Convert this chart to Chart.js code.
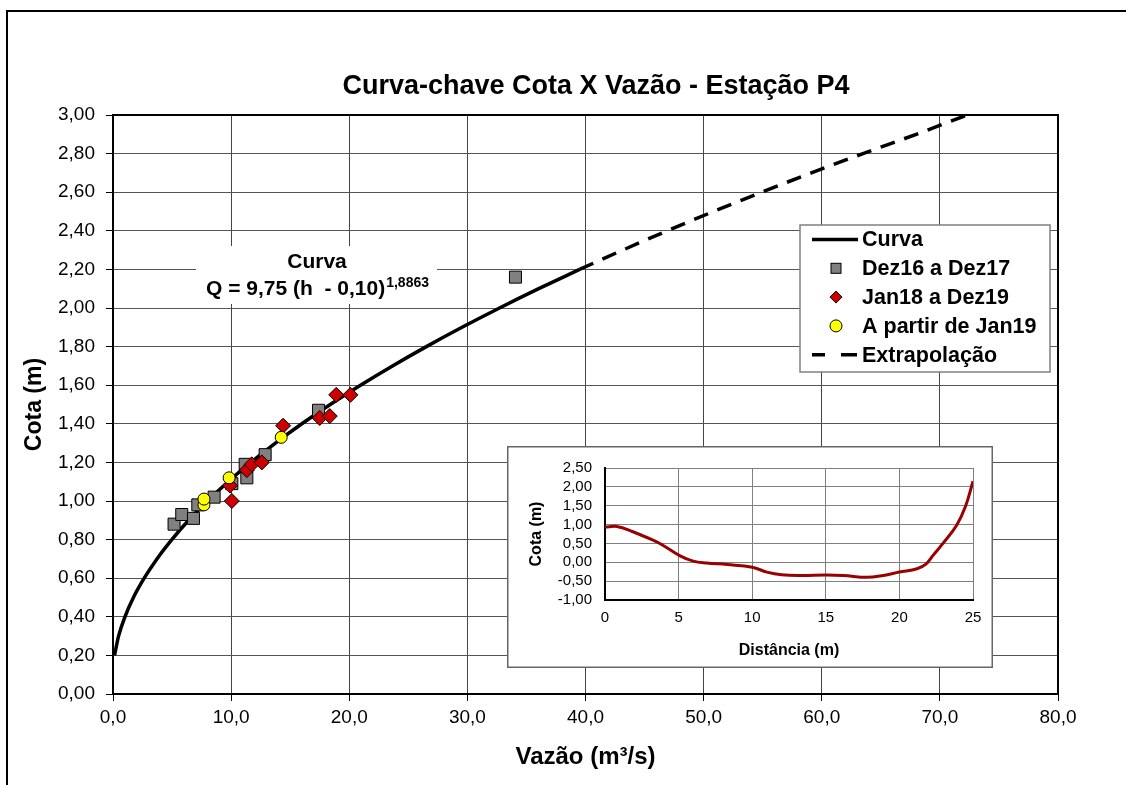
<!DOCTYPE html>
<html><head><meta charset="utf-8">
<script src="https://cdn.jsdelivr.net/npm/chart.js@4.4.1/dist/chart.umd.min.js"></script>
<style>
html,body{margin:0;padding:0;background:#fff;}
#wrap{position:relative;width:1126px;height:785px;overflow:hidden;background:#fff;}
#main{position:absolute;left:0;top:0;}
#inset{position:absolute;left:507px;top:446px;}
</style></head><body>
<div id="wrap"><canvas id="main" width="1126" height="785"></canvas><canvas id="inset" width="486" height="222"></canvas></div>
<script>
// ---------- DATA ----------
const seriesNames = ['Curva', 'Dez16 a Dez17', 'Jan18 a Dez19', 'A partir de Jan19', 'Extrapolação'];

const curvaQ = [0.13, 0.47, 1.01, 1.73, 2.64, 3.72, 4.98, 6.40, 7.99, 9.75, 11.67, 13.75, 15.99, 18.39, 20.95, 23.66, 26.53, 29.55, 32.72, 36.04, 39.50];
const curvaH = [0.20, 0.30, 0.40, 0.50, 0.60, 0.70, 0.80, 0.90, 1.00, 1.10, 1.20, 1.30, 1.40, 1.50, 1.60, 1.70, 1.80, 1.90, 2.00, 2.10, 2.20];

const extrapQ = [39.50, 43.15, 46.92, 50.84, 54.91, 59.12, 63.49, 68.00, 72.30];
const extrapH = [2.20, 2.30, 2.40, 2.50, 2.60, 2.70, 2.80, 2.90, 3.00];

const dezQ = [5.17, 5.82, 6.81, 7.18, 8.56, 10.06, 11.33, 11.19, 12.88, 17.40, 34.07];
const dezH = [0.88, 0.93, 0.91, 0.98, 1.02, 1.09, 1.12, 1.19, 1.24, 1.47, 2.16];

const janQ = [10.06, 9.90, 11.33, 11.75, 12.60, 14.40, 17.50, 18.35, 18.90, 20.10];
const janH = [1.00, 1.08, 1.16, 1.19, 1.20, 1.39, 1.43, 1.44, 1.55, 1.55];

const partirQ = [7.70, 7.70, 9.83, 14.24];
const partirH = [0.98, 1.01, 1.12, 1.33];

const insetDist = [0, 0.8, 1.9, 3.3, 3.9, 5.1, 6.0, 6.9, 8.3, 10.0, 11.0, 12.0, 13.3, 15.0, 16.2, 17.8, 18.9, 20.0, 21.2, 21.8, 22.3, 23.0, 23.9, 24.5, 25.0];
const insetCota = [0.93, 0.95, 0.81, 0.58, 0.46, 0.17, 0.03, -0.02, -0.06, -0.13, -0.26, -0.33, -0.35, -0.34, -0.35, -0.40, -0.35, -0.26, -0.17, -0.05, 0.19, 0.52, 0.99, 1.49, 2.15];

const chartTitle = 'Curva-chave Cota X Vazão - Estação P4';
const eqLine1 = 'Curva';
const eqLine2 = 'Q = 9,75 (h  - 0,10)';
const eqExp = '1,8863';

// ---------- HELPERS ----------
const FONT = '"Liberation Sans", Arial, Helvetica, sans-serif';
Chart.defaults.font.family = FONT;
Chart.defaults.color = '#000';
const pts = (xs, ys) => xs.map((x, i) => ({x: x, y: ys[i]}));
const fmt = (d) => (v) => Number(v).toFixed(d).replace('.', ',');

// ---------- MAIN CHART ----------
const mainDeco = {
  id: 'mainDeco',
  beforeDraw(chart) {
    const ctx = chart.ctx;
    ctx.save(); ctx.fillStyle = '#fff'; ctx.fillRect(0, 0, chart.width, chart.height); ctx.restore();
  },
  beforeDatasetsDraw(chart) {
    const ctx = chart.ctx, a = chart.chartArea;
    ctx.save();
    ctx.strokeStyle = '#000'; ctx.lineWidth = 2;
    ctx.strokeRect(a.left, a.top, a.right - a.left, a.bottom - a.top);
    ctx.fillStyle = '#fff';
    ctx.fillRect(196, 246, 241, 58);
    ctx.fillStyle = '#000';
    ctx.textBaseline = 'alphabetic';
    ctx.textAlign = 'center';
    ctx.font = 'bold 21px ' + FONT;
    ctx.fillText(eqLine1, 317, 268);
    const w1 = ctx.measureText(eqLine2).width;
    ctx.font = 'bold 14px ' + FONT;
    const w2 = ctx.measureText(eqExp).width;
    const x0 = 317 - (w1 + w2) / 2;
    ctx.textAlign = 'left';
    ctx.font = 'bold 21px ' + FONT;
    ctx.fillText(eqLine2, x0, 295);
    ctx.font = 'bold 14px ' + FONT;
    ctx.fillText(eqExp, x0 + w1 + 1, 287);
    ctx.restore();
  },
  afterDraw(chart) {
    const ctx = chart.ctx;
    ctx.save();
    ctx.fillStyle = '#000';
    ctx.font = 'bold 27px ' + FONT;
    ctx.textAlign = 'center';
    ctx.textBaseline = 'alphabetic';
    ctx.fillText(chartTitle, 596, 94);
    const lx = 800, ly = 225, lw = 250, lh = 147;
    ctx.fillStyle = '#fff';
    ctx.fillRect(lx, ly, lw, lh);
    ctx.strokeStyle = '#808080'; ctx.lineWidth = 1.5;
    ctx.strokeRect(lx, ly, lw, lh);
    const kinds = ['line', 'square', 'diamond', 'circle', 'dash'];
    for (let i = 0; i < 5; i++) {
      const cy = 239.5 + i * 28.8;
      const cx = 836;
      ctx.strokeStyle = '#000';
      if (kinds[i] === 'line') {
        ctx.lineWidth = 3.5; ctx.beginPath(); ctx.moveTo(812, cy); ctx.lineTo(858, cy); ctx.stroke();
      } else if (kinds[i] === 'dash') {
        ctx.lineWidth = 3.5; ctx.beginPath(); ctx.moveTo(812, cy); ctx.lineTo(825, cy); ctx.moveTo(841, cy); ctx.lineTo(857, cy); ctx.stroke();
      } else if (kinds[i] === 'square') {
        ctx.lineWidth = 1; ctx.fillStyle = '#808080';
        ctx.fillRect(cx - 5, cy - 5, 10, 10); ctx.strokeRect(cx - 5, cy - 5, 10, 10);
      } else if (kinds[i] === 'diamond') {
        ctx.lineWidth = 1; ctx.fillStyle = '#CC0000';
        ctx.beginPath(); ctx.moveTo(cx, cy - 6); ctx.lineTo(cx + 6, cy); ctx.lineTo(cx, cy + 6); ctx.lineTo(cx - 6, cy); ctx.closePath(); ctx.fill(); ctx.stroke();
      } else {
        ctx.lineWidth = 1; ctx.fillStyle = '#FFFF00';
        ctx.beginPath(); ctx.arc(cx, cy, 6, 0, Math.PI * 2); ctx.fill(); ctx.stroke();
      }
      ctx.fillStyle = '#000';
      ctx.font = 'bold 21.5px ' + FONT;
      ctx.textAlign = 'left';
      ctx.textBaseline = 'middle';
      ctx.fillText(seriesNames[i], 862, cy + 1);
    }
    ctx.strokeStyle = '#000'; ctx.lineWidth = 2;
    ctx.strokeRect(7, 11, 1300, 900);
    ctx.restore();
  }
};

new Chart(document.getElementById('main'), {
  type: 'scatter',
  data: {
    datasets: [
      {label: seriesNames[3], data: pts(partirQ, partirH), pointStyle: 'circle', pointRadius: 6, backgroundColor: '#FFFF00', borderColor: '#000', borderWidth: 1, order: 0},
      {label: seriesNames[2], data: pts(janQ, janH), pointStyle: 'rectRot', pointRadius: 7.5, backgroundColor: '#CC0000', borderColor: '#000', borderWidth: 1, order: 1},
      {label: seriesNames[1], data: pts(dezQ, dezH), pointStyle: 'rect', pointRadius: 8.5, backgroundColor: '#808080', borderColor: '#000', borderWidth: 1, order: 2},
      {label: seriesNames[0], data: pts(curvaQ, curvaH), showLine: true, pointRadius: 0, borderColor: '#000', borderWidth: 3.5, cubicInterpolationMode: 'monotone', order: 3},
      {label: seriesNames[4], data: pts(extrapQ, extrapH), showLine: true, pointRadius: 0, borderColor: '#000', borderWidth: 3.5, borderDash: [15, 10], cubicInterpolationMode: 'monotone', order: 4}
    ]
  },
  options: {
    responsive: false, animation: false, devicePixelRatio: 1,
    layout: {padding: {left: 13, right: 68, top: 115, bottom: 0}},
    plugins: {legend: {display: false}, tooltip: {enabled: false}, title: {display: false}},
    scales: {
      x: {
        type: 'linear', min: 0, max: 80,
        afterFit(s) { s.height = 91; },
        ticks: {stepSize: 10, callback: fmt(1), font: {size: 19}, color: '#000', padding: 5, maxRotation: 0, autoSkip: false},
        grid: {color: '#444', lineWidth: 1, tickColor: '#000', tickLength: 7},
        border: {color: '#000', width: 2},
        title: {display: true, text: 'Vazão (m³/s)', font: {size: 24, weight: 'bold'}, color: '#000', padding: {top: 0, bottom: 13}}
      },
      y: {
        type: 'linear', min: 0, max: 3,
        afterFit(s) { s.width = 100; },
        ticks: {stepSize: 0.2, callback: fmt(2), font: {size: 19}, color: '#000', padding: 11, autoSkip: false},
        grid: {color: '#555', lineWidth: 1, tickColor: '#000', tickLength: 7},
        border: {color: '#000', width: 2},
        title: {display: true, text: 'Cota (m)', font: {size: 23, weight: 'bold'}, color: '#000', padding: {top: 8, bottom: 0}}
      }
    }
  },
  plugins: [mainDeco]
});

// ---------- INSET CHART ----------
const insetDeco = {
  id: 'insetDeco',
  beforeDraw(chart) {
    const ctx = chart.ctx;
    ctx.save();
    ctx.fillStyle = '#fff'; ctx.fillRect(0, 0, chart.width, chart.height);
    ctx.strokeStyle = '#666'; ctx.lineWidth = 1.5;
    ctx.strokeRect(0.75, 0.75, chart.width - 1.5, chart.height - 1.5);
    ctx.restore();
  }
};

new Chart(document.getElementById('inset'), {
  type: 'scatter',
  data: {
    datasets: [{
      label: 'Seção', data: pts(insetDist, insetCota), showLine: true, pointRadius: 0,
      borderColor: '#990000', borderWidth: 3, tension: 0.4
    }]
  },
  options: {
    responsive: false, animation: false, devicePixelRatio: 1,
    layout: {padding: {left: 0, right: 20, top: 13, bottom: 0}},
    plugins: {legend: {display: false}, tooltip: {enabled: false}},
    scales: {
      x: {
        type: 'linear', min: 0, max: 25,
        afterFit(s) { s.height = 68; },
        ticks: {stepSize: 5, font: {size: 15}, color: '#000', padding: 9, maxRotation: 0, autoSkip: false},
        grid: {color: '#808080', lineWidth: 1, drawTicks: false},
        border: {color: '#000', width: 2},
        title: {display: true, text: 'Distância (m)', font: {size: 16, weight: 'bold'}, color: '#000', padding: {top: 0, bottom: 8}}
      },
      y: {
        type: 'linear', min: -1, max: 2.5,
        afterFit(s) { s.width = 98; },
        ticks: {stepSize: 0.5, callback: fmt(2), font: {size: 15}, color: '#000', padding: 13, autoSkip: false},
        grid: {color: '#808080', lineWidth: 1, drawTicks: false},
        border: {color: '#000', width: 2},
        title: {display: true, text: 'Cota (m)', font: {size: 16, weight: 'bold'}, color: '#000', padding: {top: 20, bottom: 0}}
      }
    }
  },
  plugins: [insetDeco]
});
</script>
</body></html>
